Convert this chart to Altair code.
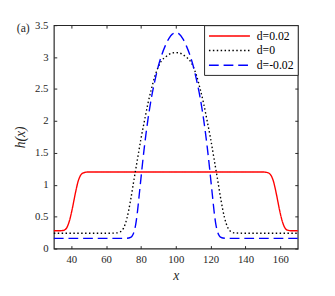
import altair as alt
import pandas as pd

# d = 0.02 (red, solid)
red_x = [30, 34, 36, 37, 38, 39, 40, 41, 42, 43, 44, 45, 46, 48, 50, 100,
         150, 152, 154, 155, 156, 157, 158, 159, 160, 161, 162, 163, 164, 166, 170]
red_h = [0.28, 0.28, 0.29, 0.31, 0.36, 0.44, 0.55, 0.68, 0.82, 0.95, 1.06, 1.13, 1.17, 1.195, 1.2, 1.2,
         1.2, 1.195, 1.17, 1.13, 1.06, 0.95, 0.82, 0.68, 0.55, 0.44, 0.36, 0.31, 0.29, 0.28, 0.28]

# d = 0 (black, dotted)
blk_x = [30, 60, 66, 68, 70, 72, 74, 76, 78, 80, 82, 84, 86, 88, 90, 92, 94, 96, 98, 100,
         102, 104, 106, 108, 110, 112, 114, 116, 118, 120, 122, 124, 126, 128, 130, 132, 134, 140, 170]
blk_h = [0.24, 0.24, 0.245, 0.26, 0.32, 0.48, 0.75, 1.08, 1.4, 1.72, 2.0, 2.27, 2.5, 2.7, 2.85, 2.95, 3.0, 3.04, 3.065, 3.07,
         3.065, 3.04, 3.0, 2.95, 2.85, 2.7, 2.5, 2.27, 2.0, 1.72, 1.4, 1.08, 0.75, 0.48, 0.32, 0.26, 0.245, 0.24, 0.24]

# d = -0.02 (blue, dashed)
blu_x = [30, 70, 73, 74, 75, 76, 77, 78, 79, 80, 81, 82, 83, 84, 86, 88, 90, 92, 94, 96, 98, 100,
         102, 104, 106, 108, 110, 112, 114, 116, 117, 118, 119, 120, 121, 122, 123, 124, 125, 126, 127, 130, 170]
blu_h = [0.16, 0.16, 0.165, 0.175, 0.2, 0.26, 0.38, 0.58, 0.84, 1.1, 1.36, 1.6, 1.82, 2.02, 2.36, 2.63, 2.86, 3.04, 3.18, 3.29, 3.36, 3.38,
         3.36, 3.29, 3.18, 3.04, 2.86, 2.63, 2.36, 2.02, 1.82, 1.6, 1.36, 1.1, 0.84, 0.58, 0.38, 0.26, 0.2, 0.175, 0.165, 0.16, 0.16]

series = ["d=0.02", "d=0", "d=-0.02"]
colors = ["#ff0000", "#000000", "#0000ff"]
dashes = [[1, 0], [1.5, 2.5], [10, 5]]

x_ticks = [40, 60, 80, 100, 120, 140, 160]
y_ticks = [0, 0.5, 1, 1.5, 2, 2.5, 3, 3.5]

rows = []
for name, xs, hs in [(series[0], red_x, red_h), (series[1], blk_x, blk_h), (series[2], blu_x, blu_h)]:
    for xv, hv in zip(xs, hs):
        rows.append({"x": xv, "h": hv, "d": name})
df = pd.DataFrame(rows)

FONT = "Liberation Serif"
AX = "#262626"

xscale = alt.Scale(domain=[30, 170], nice=False, zero=False)
yscale = alt.Scale(domain=[0, 3.5], nice=False, zero=True)

legend = alt.Legend(
    title=None, orient="top-right", offset=0,
    symbolType="M-1,0H6", symbolSize=144,
    symbolStrokeWidth=1.5, labelFont=FONT, labelFontSize=12, labelColor="#000000",
    strokeColor=AX, fillColor="white", padding=4, rowPadding=2, labelOffset=36,
)

lines = alt.Chart(df).mark_line(strokeWidth=1.4, interpolate="monotone").encode(
    x=alt.X("x:Q", scale=xscale, axis=alt.Axis(
        orient="bottom", values=x_ticks, tickSize=3, offset=-3, domain=False, grid=False,
        labelPadding=5, labelFont=FONT, labelFontSize=11, labelColor=AX, tickColor=AX,
        title="x", titleFont=FONT, titleFontSize=14, titleFontStyle="italic",
        titleFontWeight="normal", titleColor=AX, titlePadding=5)),
    y=alt.Y("h:Q", scale=yscale, axis=alt.Axis(
        orient="left", values=y_ticks, format="~g", tickSize=3, offset=-3, domain=False, grid=False,
        labelPadding=6, labelFont=FONT, labelFontSize=11, labelColor=AX, tickColor=AX,
        title="h(x)", titleFont=FONT, titleFontSize=14, titleFontStyle="italic",
        titleFontWeight="normal", titleColor=AX, titlePadding=7)),
    color=alt.Color("d:N", scale=alt.Scale(domain=series, range=colors), legend=legend),
    strokeDash=alt.StrokeDash("d:N", scale=alt.Scale(domain=series, range=dashes), legend=legend),
)

mirror = alt.Chart(df).mark_line(opacity=0).encode(
    x=alt.X("x:Q", scale=xscale, axis=alt.Axis(
        orient="top", values=x_ticks, tickSize=3, offset=-3, domain=False, grid=False,
        labels=False, title=None, tickColor=AX)),
    y=alt.Y("h:Q", scale=yscale, axis=alt.Axis(
        orient="right", values=y_ticks, tickSize=3, offset=-3, domain=False, grid=False,
        labels=False, title=None, tickColor=AX)),
    detail="d:N",
)

panel = alt.Chart(pd.DataFrame({"t": ["(a)"]})).mark_text(
    align="left", baseline="middle", font=FONT, fontSize=12, color=AX
).encode(text="t:N", x=alt.value(-38), y=alt.value(3))

chart = alt.layer(lines, mirror, panel).resolve_axis(
    x="independent", y="independent"
).properties(
    width=250, height=229,
    autosize=alt.AutoSizeParams(type="none"),
    padding={"left": 47, "top": 14, "right": 30, "bottom": 45},
).configure(font=FONT).configure_view(
    stroke=AX, strokeWidth=1.2
).configure_axis(labelFont=FONT, titleFont=FONT).configure_legend(
    labelFont=FONT, labelFontSize=12
).configure_text(font=FONT)

chart.save("out.html", embed_options={"renderer": "svg", "actions": False})
